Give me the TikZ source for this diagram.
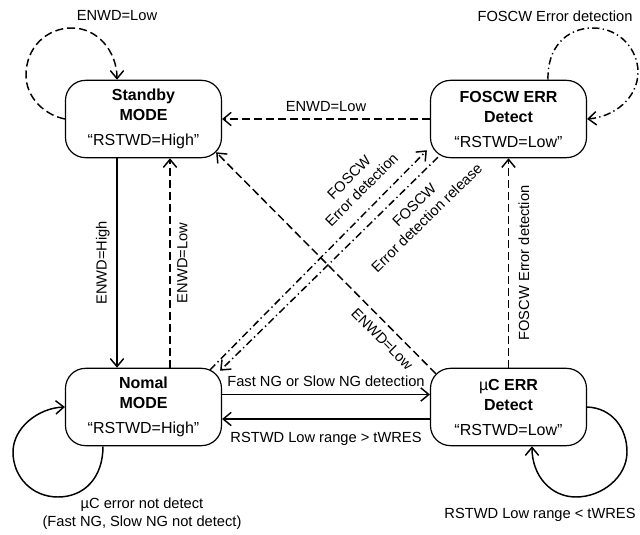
\documentclass[tikz,border=0pt]{standalone}
\usepackage{fontspec}
\setmainfont{Liberation Sans}
\usetikzlibrary{arrows.meta,calc}

\begin{document}
\begin{tikzpicture}
	[x=0.75pt,y=-0.75pt,line width=1.1pt,
	statebox/.style={draw=black,line width=0.9pt,rounded corners=15pt,minimum width=117pt,minimum height=58pt,inner sep=0pt,align=center,font=\fontsize{12}{15}\selectfont},
	lbl/.style={font=\fontsize{11}{13.3}\selectfont,inner xsep=0pt,inner ysep=5pt,align=center},
	dsh/.style={dash pattern=on 6pt off 3pt},
	dshdot/.style={dash pattern=on 5.5pt off 2.5pt on 1pt off 2.5pt},
	>={Straight Barb[length=6pt,width=10pt]}]
	\useasboundingbox (0,0) rectangle (640,535);
	%STATES
	\node[statebox] (standby) at (143.5,119) {\textbf{Standby}\\\textbf{MODE}\\[3.75pt]“RSTWD=High”};
	\node[statebox] (foscw) at (508.5,119) {\textbf{FOSCW ERR}\\\textbf{Detect}\\[3.75pt]“RSTWD=Low”};
	\node[statebox] (nomal) at (143.5,407) {\textbf{Nomal}\\\textbf{MODE}\\[3.75pt]“RSTWD=High”};
	\node[statebox] (ucerr) at (508.5,407) {µ\textbf{C ERR}\\\textbf{Detect}\\[3.75pt]“RSTWD=Low”};
	%VERTICAL
	\path[->](standby.south) ++(-26.5,0) coordinate (sbA) (nomal.north) ++(-26.5,0) coordinate (nmA);
	\path[->](sbA) edge node[lbl,rotate=90,anchor=south] {ENWD=High} (nmA);
	\path[->,dsh]($(nomal.north)+(26.5,0)$) edge node[lbl,rotate=90,anchor=north] {ENWD=Low} ($(standby.south)+(26.5,0)$);
	\path[->,dsh](ucerr.north) edge node[lbl,rotate=90,anchor=north,inner ysep=7pt] {FOSCW Error detection} (foscw.south);
	%HORIZONTAL
	\path[->,dsh](foscw.west) edge node[lbl,above] {ENWD=Low} (standby.east);
	\path[->]($(nomal.east)+(0,-12.5)$) edge node[lbl,above] {Fast NG or Slow NG detection} ($(ucerr.west)+(0,-12.5)$);
	\path[->]($(ucerr.west)+(0,12)$) edge node[lbl,below,inner ysep=9.75pt] {RSTWD Low range > tWRES} ($(nomal.east)+(0,12)$);
	%DIAGONAL
	\path[->,dsh]($(ucerr.north west)+(6,6)$) edge node[lbl,sloped,below,pos=0.2,inner ysep=5.9pt] {ENWD=Low} ($(standby.south east)+(-6,-6)$);
	\path[->,dshdot]($(nomal.north east)+(-12,2)$) edge node[lbl,sloped,above,pos=0.76,inner ysep=9.5pt] {FOSCW\\Error detection} ($(foscw.south west)+(-3,-8)$);
	\path[->,dshdot]($(foscw.south west)+(8,-1)$) edge node[lbl,sloped,below,pos=0.165,inner ysep=8.8pt] {FOSCW\\Error detection release} ($(nomal.north east)+(-2,3)$);
	%SELF LOOPS
	\draw[->,dsh](standby.west) .. controls (45,115) and (26,98) .. (26,75) .. controls (26,48) and (46,28) .. (72,28) .. controls (98,28) and (117,52) .. (sbA |- standby.north);
	\draw[->,dshdot]($(foscw.north)+(39.5,0)$) .. controls (547,48) and (566,28) .. (593,28) .. controls (620,28) and (638,50) .. (638,72) .. controls (638,98) and (614,117) .. (foscw.east);
	\draw[->]($(nomal.south)+(-40.5,0)$) .. controls (103,478) and (84,497) .. (58,497) .. controls (32,497) and (13,477) .. (13,452) .. controls (13,428) and (38,408) .. (nomal.west);
	\draw[->](ucerr.east) .. controls (612,408) and (627,428) .. (627,452) .. controls (627,477) and (602,497) .. (576,497) .. controls (551,497) and (532,476) .. ($(ucerr.south)+(23.5,0)$);
	\node[lbl] (sbloop) at (117,16) {ENWD=Low};
	\node[lbl] (foscwloop) at (555,16) {FOSCW Error detection};
	\node[lbl] (nmloop) at (142,514) {µC error not detect\\(Fast NG, Slow NG not detect)};
	\node[lbl] (ucloop) at (540,515) {RSTWD Low range < tWRES};
\end{tikzpicture}
\end{document}
